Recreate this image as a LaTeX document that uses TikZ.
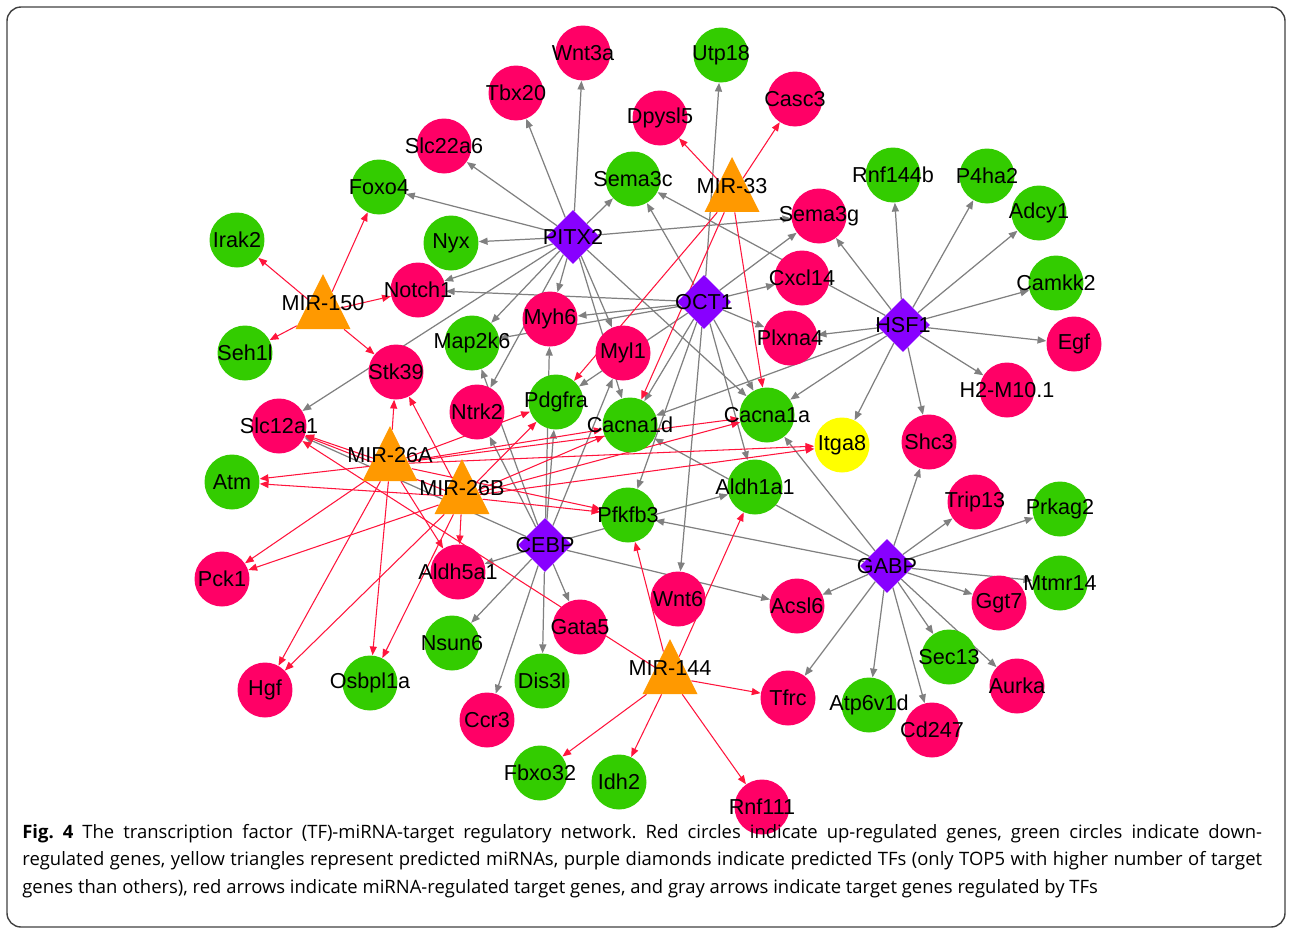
\documentclass[tikz,border=0pt]{standalone}
\usepackage{fontspec}
\setmainfont{Liberation Sans}
\newfontfamily\capfont{Open Sans}
\usetikzlibrary{arrows.meta, shapes.geometric, backgrounds}
\definecolor{upred}{RGB}{255,0,102}
\definecolor{downgreen}{RGB}{51,204,0}
\definecolor{predyellow}{RGB}{255,255,0}
\definecolor{mirorange}{RGB}{255,153,0}
\definecolor{tfpurple}{RGB}{136,0,255}
\definecolor{tfgray}{RGB}{128,128,128}
\definecolor{mirred}{RGB}{255,20,60}
\tikzset{
  gene/.style={circle, minimum size=1.1cm, inner sep=0pt, label={center:#1}},
  upgene/.style={gene=#1, fill=upred},
  downgene/.style={gene=#1, fill=downgreen},
  predgene/.style={gene=#1, fill=predyellow},
  tfnode/.style={diamond, minimum size=1.08cm, inner sep=0pt, fill=tfpurple, label={center:#1}},
  mirnode/.style={isosceles triangle, isosceles triangle apex angle=53, isosceles triangle stretches,
    shape border rotate=90, minimum width=1.1cm, minimum height=1.1cm, inner sep=0pt,
    fill=mirorange, label={[yshift=0.18cm]center:#1}},
  tfedge/.style={draw=tfgray, line width=0.7pt, -{Triangle[length=5pt,width=4pt]}},
  miredge/.style={draw=mirred, line width=0.6pt, -{Triangle[length=5pt,width=4pt]}},
}
\begin{document}
\begin{tikzpicture}[x=0.02cm, y=-0.02cm,
  every label/.style={font=\fontsize{12.3}{14}\selectfont, inner sep=0pt}]
\useasboundingbox (0,0) rectangle (1292,934);
\draw[black!75, line width=0.8pt, rounded corners=0.28cm] (7,7) rectangle (1285,927);

% up-regulated genes
\node[upgene=Wnt3a] (wnt3a) at (583,53) {};
\node[upgene=Tbx20] (tbx20) at (516,93) {};
\node[upgene=Casc3] (casc3) at (795,99) {};
\node[upgene=Dpysl5] (dpysl5) at (660,118) {};
\node[upgene=Slc22a6] (slc22a6) at (444,146) {};
\node[upgene=Sema3g] (sema3g) at (819,216) {};
\node[upgene=Notch1] (notch1) at (418,290) {};
\node[upgene=Cxcl14] (cxcl14) at (802,278) {};
\node[upgene=Myh6] (myh6) at (550,319) {};
\node[upgene=Myl1] (myl1) at (623,353) {};
\node[upgene=Plxna4] (plxna4) at (790,338) {};
\node[upgene=Egf] (egf) at (1074,344) {};
\node[upgene=Stk39] (stk39) at (396,372) {};
\node[upgene=H2-M10.1] (h2m) at (1007,390) {};
\node[upgene=Ntrk2] (ntrk2) at (477,412) {};
\node[upgene=Slc12a1] (slc12a1) at (279,426) {};
\node[upgene=Shc3] (shc3) at (929,442) {};
\node[upgene=Trip13] (trip13) at (975,502) {};
\node[upgene=Pck1] (pck1) at (222,579) {};
\node[upgene=Aldh5a1] (aldh5a1) at (458,572) {};
\node[upgene=Wnt6] (wnt6) at (678,599) {};
\node[upgene=Acsl6] (acsl6) at (797,606) {};
\node[upgene=Gata5] (gata5) at (580,627) {};
\node[upgene=Ggt7] (ggt7) at (999,603) {};
\node[upgene=Hgf] (hgf) at (265,690) {};
\node[upgene=Ccr3] (ccr3) at (487,720) {};
\node[upgene=Tfrc] (tfrc) at (788,698) {};
\node[upgene=Aurka] (aurka) at (1017,686) {};
\node[upgene=Cd247] (cd247) at (932,730) {};
\node[upgene=Rnf111] (rnf111) at (762,807) {};

% down-regulated genes
\node[downgene=Utp18] (utp18) at (721,55) {};
\node[downgene=Sema3c] (sema3c) at (633,179) {};
\node[downgene=Foxo4] (foxo4) at (379,187) {};
\node[downgene=Rnf144b] (rnf144b) at (893,175) {};
\node[downgene=P4ha2] (p4ha2) at (987,176) {};
\node[downgene=Adcy1] (adcy1) at (1039,213) {};
\node[downgene=Irak2] (irak2) at (237,240) {};
\node[downgene=Nyx] (nyx) at (451,243) {};
\node[downgene=Camkk2] (camkk2) at (1056,283) {};
\node[downgene=Seh1l] (seh1l) at (245,353) {};
\node[downgene=Map2k6] (map2k6) at (472,343) {};
\node[downgene=Pdgfra] (pdgfra) at (556,402) {};
\node[downgene=Cacna1d] (cacna1d) at (630,425) {};
\node[downgene=Cacna1a] (cacna1a) at (767,415) {};
\node[downgene=Atm] (atm) at (232,482) {};
\node[downgene=Aldh1a1] (aldh1a1) at (755,487) {};
\node[downgene=Pfkfb3] (pfkfb3) at (628,515) {};
\node[downgene=Prkag2] (prkag2) at (1060,509) {};
\node[downgene=Mtmr14] (mtmr14) at (1060,583) {};
\node[downgene=Nsun6] (nsun6) at (452,643) {};
\node[downgene=Osbpl1a] (osbpl1a) at (370,683) {};
\node[downgene=Dis3l] (dis3l) at (542,681) {};
\node[downgene=Sec13] (sec13) at (949,657) {};
\node[downgene=Atp6v1d] (atp6v1d) at (869,705) {};
\node[downgene=Fbxo32] (fbxo32) at (540,773) {};
\node[downgene=Idh2] (idh2) at (619,782) {};
\node[predgene=Itga8] (itga8) at (842,445) {};

% miRNAs
\node[mirnode=MIR-33] (mir33) at (732,195) {};
\node[mirnode=MIR-150] (mir150) at (323,312) {};
\node[mirnode=MIR-26A] (mir26a) at (390,464) {};
\node[mirnode=MIR-26B] (mir26b) at (462,497) {};
\node[mirnode=MIR-144] (mir144) at (670,677) {};

% TFs
\node[tfnode=PITX2] (pitx2) at (573,237) {};
\node[tfnode=OCT1] (oct1) at (704,302) {};
\node[tfnode=HSF1] (hsf1) at (903,325) {};
\node[tfnode=CEBP] (cebp) at (545,545) {};
\node[tfnode=GABP] (gabp) at (887,566) {};

\begin{scope}[on background layer]
\foreach \t in {wnt3a,tbx20,slc22a6,foxo4,nyx,sema3c,sema3g,notch1,myh6,map2k6,ntrk2,myl1,cacna1d,cacna1a,slc12a1}
  \draw[tfedge] (pitx2) -- (\t);
\foreach \t in {utp18,sema3c,sema3g,cxcl14,plxna4,notch1,myh6,map2k6,pdgfra,cacna1d,cacna1a,aldh1a1,pfkfb3,wnt6}
  \draw[tfedge] (oct1) -- (\t);
\foreach \t in {rnf144b,p4ha2,adcy1,camkk2,egf,h2m,shc3,itga8,cacna1a,cacna1d,plxna4,sema3g,sema3c}
  \draw[tfedge] (hsf1) -- (\t);
\foreach \t in {pdgfra,myh6,myl1,ntrk2,map2k6,slc12a1,aldh1a1,aldh5a1,acsl6,gata5,dis3l,nsun6,ccr3}
  \draw[tfedge] (cebp) -- (\t);
\foreach \t in {shc3,trip13,prkag2,mtmr14,ggt7,aurka,sec13,cd247,atp6v1d,tfrc,acsl6,pfkfb3,cacna1d,cacna1a}
  \draw[tfedge] (gabp) -- (\t);
\foreach \t in {dpysl5,casc3,pdgfra,cacna1d,cacna1a}
  \draw[miredge] (mir33) -- (\t);
\foreach \t in {foxo4,irak2,seh1l,notch1,stk39}
  \draw[miredge] (mir150) -- (\t);
\foreach \m in {mir26a,mir26b}
  \foreach \t in {slc12a1,atm,pck1,hgf,osbpl1a,stk39,aldh5a1,pdgfra,cacna1d,cacna1a,itga8,pfkfb3}
    \draw[miredge] (\m) -- (\t);
\foreach \t in {slc12a1,pfkfb3,aldh1a1,tfrc,fbxo32,idh2,rnf111}
  \draw[miredge] (mir144) -- (\t);
\end{scope}

\node[anchor=north west, text width=24.8cm, align=justify, inner sep=0pt, font=\capfont\fontsize{10.5}{15.6}\selectfont\frenchspacing] (caption) at (22,824)
  {\textbf{Fig.~4} The transcription factor (TF)-miRNA-target regulatory network. Red circles indicate up-regulated genes, green circles indicate down-\linebreak
   regulated genes, yellow triangles represent predicted miRNAs, purple diamonds indicate predicted TFs (only TOP5 with higher number of target\linebreak
   genes than others), red arrows indicate miRNA-regulated target genes, and gray arrows indicate target genes regulated by TFs};
\end{tikzpicture}
\end{document}
